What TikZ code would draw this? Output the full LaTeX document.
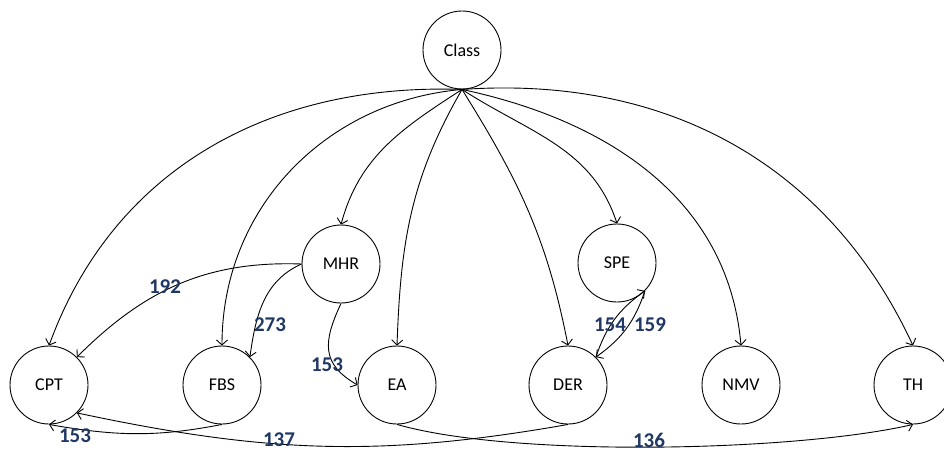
\documentclass[tikz,border=0pt]{standalone}
\usepackage{fontspec}
\setmainfont{Carlito}
\usetikzlibrary{arrows.meta}
\definecolor{lblblue}{HTML}{1F3864}
\begin{document}
\begin{tikzpicture}[x=1pt,y=1pt,
  state/.style={draw,circle,minimum size=78pt,inner sep=0pt,line width=0.9pt,font=\fontsize{18}{21}\selectfont},
  edge/.style={line width=0.9pt,-{Straight Barb[length=5pt,width=11pt]}},
  lbl/.style={font=\fontsize{21}{25}\selectfont\bfseries,text=lblblue,inner sep=0pt}]
\useasboundingbox (0,0) rectangle (944,-452);
\fill[white] (0,0) rectangle (944,-452);
\node[state] (Class) at (462,-50) {Class};
\node[state] (MHR) at (341,-264) {MHR};
\node[state] (SPE) at (617,-263) {SPE};
\node[state] (CPT) at (49,-385) {CPT};
\node[state] (FBS) at (222,-385) {FBS};
\node[state] (EA) at (397,-385) {EA};
\node[state] (DER) at (568,-385) {DER};
\node[state] (NMV) at (741,-385) {NMV};
\node[state] (TH) at (913,-385) {TH};
% from Class
\draw[edge] (Class.south) to[out=178,in=70] (CPT.north);
\draw[edge] (Class.south) to[out=185,in=90] (FBS.north);
\draw[edge] (Class.south) to[out=213,in=75] (MHR.north);
\draw[edge] (Class.south) to[out=240,in=88] (EA.north);
\draw[edge] (Class.south) to[out=-58,in=101] (DER.north);
\draw[edge] (Class.south) to[out=-33,in=108] (SPE.north);
\draw[edge] (Class.south) to[out=-12,in=95] (NMV.north);
\draw[edge] (Class.south) to[out=4,in=115] (TH.north);
% from MHR
\draw[edge] (MHR.west) to[out=178,in=45] (CPT.45);
\draw[edge] (MHR.west) to[out=204,in=82] (FBS.45);
\draw[edge] (MHR.south) to[out=245,in=150,looseness=1.3] (EA.west);
% bottom
\draw[edge] (FBS.south) to[out=191,in=-10] (CPT.south);
\draw[edge] (DER.south) to[out=190,in=-12] (CPT.-45);
\draw[edge] (EA.south) to[out=-16,in=193,looseness=0.6] (TH.south);
% SPE <-> DER
\draw[edge] (DER.45) to[bend left=18] (SPE.-45);
\draw[edge] (SPE.-45) to[bend left=18] (DER.45);
% labels
\node[lbl] (l192) at (165,-287) {192};
\node[lbl] (l273) at (270,-325) {273};
\node[lbl] (l153a) at (327,-365) {153};
\node[lbl] (l153b) at (75,-436) {153};
\node[lbl] (l137) at (279,-440) {137};
\node[lbl] (l136) at (649,-440) {136};
\node[lbl] (l154) at (610,-325) {154};
\node[lbl] (l159) at (650,-325) {159};
\end{tikzpicture}
\end{document}
